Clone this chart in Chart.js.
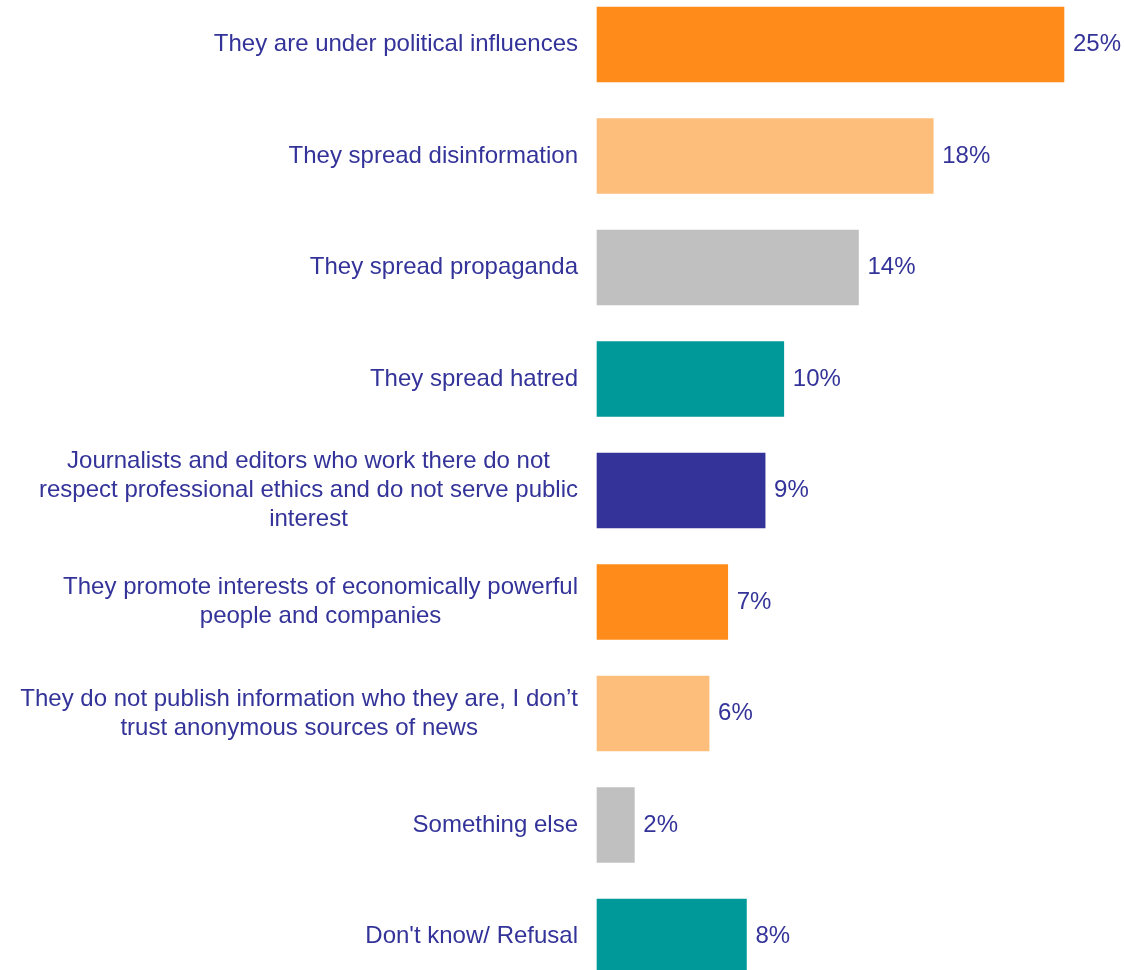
<!DOCTYPE html>
<html>
<head>
<meta charset="utf-8">
<script src="https://cdn.jsdelivr.net/npm/chart.js@4"></script>
<style>
    html, body { margin: 0; padding: 0; background: #ffffff; }
    #wrap { width: 1124px; height: 970px; }
</style>
</head>
<body>
<div id="wrap"><canvas id="reasonsChart" width="1124" height="970"></canvas></div>
<script>
// each category is a list of lines, wrapped like the original slide
const categories = [
    ["They are under political influences"],
    ["They spread disinformation"],
    ["They spread propaganda"],
    ["They spread hatred"],
    ["Journalists and editors who work there do not", "respect professional ethics and do not serve public", "interest"],
    ["They promote interests of economically powerful", "people and companies"],
    ["They do not publish information who they are, I don\u2019t", "trust anonymous sources of news"],
    ["Something else"],
    ["Don't know/ Refusal"]
];
const shares = [25, 18, 14, 10, 9, 7, 6, 2, 8];
const barColors = [
    "#FF8C1A", "#FDBE7B", "#C0C0C0", "#009999", "#333399",
    "#FF8C1A", "#FDBE7B", "#C0C0C0", "#009999"
];

const TEXT_COLOR = "#333399";
const FONT = "24px 'Liberation Sans', Arial, sans-serif";
const LINE_H = 29;

// category text: block right-aligned against the bars, lines centred inside the block
const categoryLabels = {
    id: "categoryLabels",
    afterDraw(chart) {
        const ctx = chart.ctx;
        const yScale = chart.scales.y;
        const right = chart.chartArea.left - 19;
        ctx.save();
        ctx.font = FONT;
        ctx.fillStyle = TEXT_COLOR;
        ctx.textAlign = "center";
        ctx.textBaseline = "middle";
        categories.forEach(function (lines, i) {
            const y = yScale.getPixelForValue(i);
            const width = Math.max(...lines.map((l) => ctx.measureText(l).width));
            const cx = right - width / 2;
            const top = y - ((lines.length - 1) * LINE_H) / 2;
            lines.forEach(function (line, j) {
                ctx.fillText(line, cx, top + j * LINE_H);
            });
        });
        ctx.restore();
    },
};

// percentage to the right of each bar
const valueLabels = {
    id: "valueLabels",
    afterDatasetsDraw(chart) {
        const ctx = chart.ctx;
        const meta = chart.getDatasetMeta(0);
        ctx.save();
        ctx.font = FONT;
        ctx.fillStyle = TEXT_COLOR;
        ctx.textAlign = "left";
        ctx.textBaseline = "middle";
        meta.data.forEach(function (bar, i) {
            ctx.fillText(shares[i] + "%", bar.x + 9, bar.y);
        });
        ctx.restore();
    },
};

const ctx = document.getElementById("reasonsChart").getContext("2d");
new Chart(ctx, {
    type: "bar",
    data: {
        labels: categories.map((lines) => lines.join(" ")),
        datasets: [
            {
                data: shares,
                backgroundColor: barColors,
                borderWidth: 0,
                barThickness: 75,
                clip: false,
            },
        ],
    },
    options: {
        indexAxis: "y",
        responsive: false,
        animation: false,
        layout: {
            padding: { top: 44.5, bottom: 33.5, left: 0, right: 4 },
        },
        plugins: {
            legend: { display: false },
            tooltip: { enabled: false },
        },
        scales: {
            x: {
                display: false,
                min: 0,
                max: 28,
            },
            y: {
                offset: false,
                grid: { display: false },
                border: { display: false },
                ticks: { display: false },
                afterFit: function (scale) {
                    scale.width = 597;
                },
            },
        },
    },
    plugins: [categoryLabels, valueLabels],
});
</script>
</body>
</html>
